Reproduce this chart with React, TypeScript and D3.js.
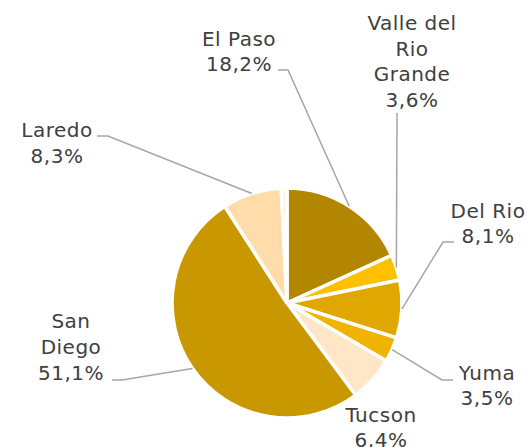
import React from "react";
import * as d3 from "d3";

const categories = ["El Paso", "Valle del Rio Grande", "Del Rio", "Yuma", "Tucson", "San Diego", "Laredo", "Otros"];
const values = [18.2, 3.6, 8.1, 3.5, 6.4, 51.1, 8.3, 0.8];
const percentLabels = ["18,2%", "3,6%", "8,1%", "3,5%", "6,4%", "51,1%", "8,3%", ""];
const colors = ["#B38600", "#FFC000", "#DFA700", "#F0B400", "#FFE6C6", "#C99800", "#FFDCAA", "#FFF2E0"];

const labelLines: string[][] = [
  ["El Paso", "18,2%"],
  ["Valle del", "Rio", "Grande", "3,6%"],
  ["Del Rio", "8,1%"],
  ["Yuma", "3,5%"],
  ["Tucson", "6,4%"],
  ["San", "Diego", "51,1%"],
  ["Laredo", "8,3%"],
  [],
];

const W = 527, H = 447;
const cx = 287, cy = 303, R = 115;

const labelPos: { x: number; y: number; lh: number; elbow?: [number, number, number] }[] = [
  { x: 239, y: 71, lh: 25.5, elbow: [278, 288, 70] },
  { x: 412, y: 107, lh: 25.7, elbow: [397, 397, 113] },
  { x: 488, y: 243, lh: 25.5, elbow: [454, 443, 242] },
  { x: 487, y: 405, lh: 25, elbow: [453, 442, 380] },
  { x: 381, y: 447, lh: 25 },
  { x: 71, y: 380, lh: 26, elbow: [112, 122, 380] },
  { x: 57, y: 163, lh: 26, elbow: [97, 108, 136] },
  { x: 0, y: 0, lh: 0 },
];

export default function App() {
  const pie = d3.pie<number>().sort(null).value((d) => d);
  const arcs = pie(values);
  const arc = d3.arc<d3.PieArcDatum<number>>().innerRadius(0).outerRadius(R);
  return (
    <svg width={W} height={H} style={{ position: "absolute", left: 0, top: 0, background: "#fff" }}>
      <g transform={`translate(${cx},${cy})`}>
        {arcs.map((a, i) => (
          <path key={i} d={arc(a) || ""} fill={colors[i]} stroke="#fff" strokeWidth={3.5} strokeLinejoin="round" />
        ))}
      </g>
      {arcs.map((a, i) => {
        const p = labelPos[i];
        if (!p.elbow) return null;
        const mid = (a.startAngle + a.endAngle) / 2;
        const ex = cx + R * Math.sin(mid);
        const ey = cy - R * Math.cos(mid);
        const [x0, x1, y] = p.elbow;
        const isValle = i === 1;
        const d = isValle
          ? `M${x0},${y} L${ex},${ey}`
          : `M${x0},${y} L${x1},${y} L${ex},${ey}`;
        return <path key={"l" + i} d={d} fill="none" stroke="#A6A6A6" strokeWidth={1.5} />;
      })}
      {labelLines.map((lines, i) => {
        const p = labelPos[i];
        const n = lines.length;
        return lines.map((t, j) => (
          <text
            key={i + "-" + j}
            x={p.x}
            y={p.y - (n - 1 - j) * p.lh}
            textAnchor="middle"
            fontFamily="DejaVu Sans, Verdana, sans-serif"
            fontSize={20}
            letterSpacing={0.5}
            fill="#404040"
          >
            {t}
          </text>
        ));
      })}
    </svg>
  );
}
